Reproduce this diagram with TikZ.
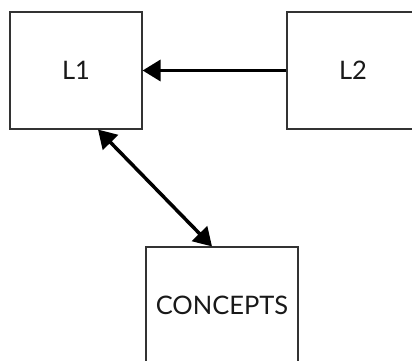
\documentclass[tikz,border=0pt]{standalone}
\usepackage{fontspec}
\setmainfont{Lato}
\usetikzlibrary{arrows.meta}
\begin{document}
\begin{tikzpicture}[x=1pt,y=1pt,
  box/.style={draw=black!80, line width=1.2pt, minimum width=132pt, minimum height=117pt, inner sep=0pt, text=black!90, font=\fontsize{25.5}{28}\selectfont},
  tip/.tip={Triangle[length=18pt,width=21pt]},
  conn/.style={line width=3.5pt, -tip, black}]
\useasboundingbox (0,0) rectangle (412,-361);
\clip (0,0) rectangle (412,-361);
\node[box] (L1) at (76,-70.5) {L1};
\node[box] (L2) at (353,-70.5) {L2};
\node[box, minimum width=152pt, minimum height=116pt] (C) at (222,-305) {CONCEPTS};
\draw[conn] (L2.west) -- (L1.east);
\draw[conn, tip-tip] ([xshift=22pt]L1.south) -- ([xshift=-10pt]C.north);
\end{tikzpicture}
\end{document}
